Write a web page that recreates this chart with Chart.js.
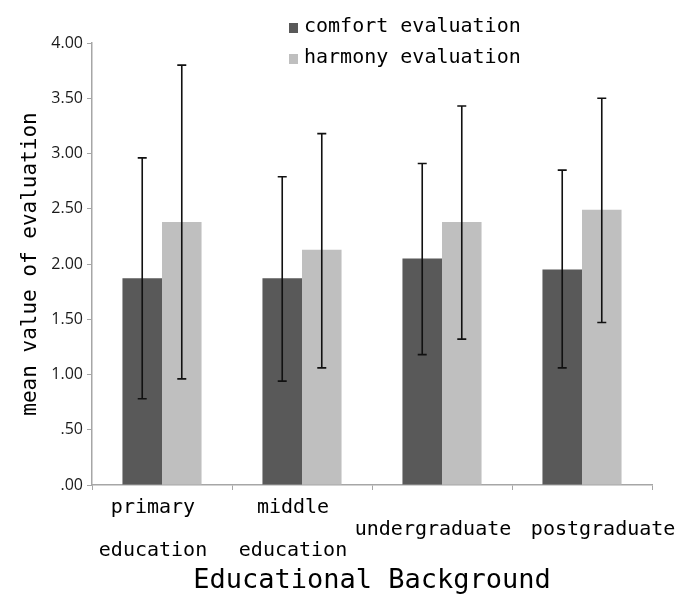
<!DOCTYPE html>
<html>
<head>
<meta charset="utf-8">
<script src="https://cdn.jsdelivr.net/npm/chart.js@4.4.1/dist/chart.umd.min.js"></script>
<style>
  body { margin: 0; background: #fff; }
  canvas { display: block; }
</style>
</head>
<body>
<canvas id="evalChart" width="680" height="597"></canvas>
<script>
// chart data
// (the last label is pushed right with leading spaces, as in the original)
const categories = [['primary', 'education'], ['middle', 'education'], 'undergraduate', '     postgraduate'];
const seriesNames = ['comfort evaluation', 'harmony evaluation'];
const comfort = [1.87, 1.87, 2.05, 1.95];
const comfortLow = [0.78, 0.94, 1.18, 1.06];
const comfortHigh = [2.96, 2.79, 2.91, 2.85];
const harmony = [2.38, 2.13, 2.38, 2.49];
const harmonyLow = [0.96, 1.06, 1.32, 1.47];
const harmonyHigh = [3.80, 3.18, 3.43, 3.50];
const yTicks = [0, 0.5, 1, 1.5, 2, 2.5, 3, 3.5, 4];

const monoFont = '"DejaVu Sans Mono", "Liberation Mono", monospace';
const axisGrey = '#a6a6a6';

// error bars drawn from the low/high arrays through the y scale
const errorBars = {
    id: 'errorBars',
    afterDatasetsDraw(chart) {
        const ctx = chart.ctx;
        const y = chart.scales.y;
        ctx.save();
        ctx.strokeStyle = '#111';
        ctx.lineWidth = 1.6;
        chart.data.datasets.forEach((ds, i) => {
            const meta = chart.getDatasetMeta(i);
            meta.data.forEach((bar, j) => {
                const x = bar.x;
                const top = y.getPixelForValue(ds.errHigh[j]);
                const bottom = y.getPixelForValue(ds.errLow[j]);
                ctx.beginPath();
                ctx.moveTo(x, top);
                ctx.lineTo(x, bottom);
                ctx.moveTo(x - 4.5, top);
                ctx.lineTo(x + 4.5, top);
                ctx.moveTo(x - 4.5, bottom);
                ctx.lineTo(x + 4.5, bottom);
                ctx.stroke();
            });
        });
        ctx.restore();
    }
};

// two-row legend at the top
const stackedLegend = {
    id: 'stackedLegend',
    afterDraw(chart) {
        const ctx = chart.ctx;
        ctx.save();
        ctx.font = '20px ' + monoFont;
        ctx.textBaseline = 'middle';
        ctx.textAlign = 'left';
        chart.data.datasets.forEach((ds, i) => {
            const cy = 28 + i * 31;
            ctx.fillStyle = ds.backgroundColor;
            ctx.fillRect(289, cy - 5, 9, 10);
            ctx.fillStyle = '#000';
            ctx.fillText(ds.label, 304, cy - 1);
        });
        ctx.restore();
    }
};

const ctx = document.getElementById('evalChart').getContext('2d');
new Chart(ctx, {
    type: 'bar',
    data: {
        labels: categories,
        datasets: [
            {
                label: seriesNames[0],
                data: comfort,
                errLow: comfortLow,
                errHigh: comfortHigh,
                backgroundColor: '#595959',
                categoryPercentage: 0.565,
                barPercentage: 1.0
            },
            {
                label: seriesNames[1],
                data: harmony,
                errLow: harmonyLow,
                errHigh: harmonyHigh,
                backgroundColor: '#bfbfbf',
                categoryPercentage: 0.565,
                barPercentage: 1.0
            }
        ]
    },
    options: {
        responsive: false,
        animation: false,
        layout: { padding: { top: 43, right: 28, left: 0, bottom: 0 } },
        plugins: {
            legend: { display: false },
            tooltip: { enabled: false }
        },
        scales: {
            x: {
                grid: {
                    display: true,
                    drawOnChartArea: false,
                    drawTicks: true,
                    tickLength: 5,
                    color: axisGrey
                },
                border: { color: axisGrey, width: 1.5 },
                ticks: {
                    color: '#000',
                    maxRotation: 0,
                    autoSkip: false,
                    padding: 18,
                    labelOffset: -9,
                    crossAlign: 'center',
                    font: { family: monoFont, size: 20, lineHeight: 2.15 }
                },
                title: {
                    display: true,
                    text: 'Educational Background',
                    color: '#000',
                    padding: { top: 0, bottom: 0 },
                    font: { family: monoFont, size: 27, lineHeight: 1.2 }
                },
                afterFit(scale) {
                    scale.height = 112;
                    // labels may overhang the plot, keep the plot width fixed
                    scale.paddingLeft = 0;
                    scale.paddingRight = 0;
                }
            },
            y: {
                min: 0,
                max: 4,
                afterBuildTicks(scale) {
                    scale.ticks = yTicks.map(v => ({ value: v }));
                },
                grid: {
                    display: true,
                    drawOnChartArea: false,
                    drawTicks: true,
                    tickLength: 5,
                    color: axisGrey
                },
                border: { color: axisGrey, width: 1.5 },
                ticks: {
                    color: '#1a1a1a',
                    padding: 4,
                    font: { family: '"Open Sans", "Liberation Sans", sans-serif', size: 16 },
                    callback: v => v.toFixed(2).replace(/^0/, '')
                },
                title: {
                    display: true,
                    text: 'mean value of evaluation',
                    color: '#000',
                    padding: { top: 18, bottom: 0 },
                    font: { family: monoFont, size: 21, lineHeight: 1.2 }
                },
                afterFit(scale) { scale.width = 92; }
            }
        }
    },
    plugins: [errorBars, stackedLegend]
});
</script>
</body>
</html>
